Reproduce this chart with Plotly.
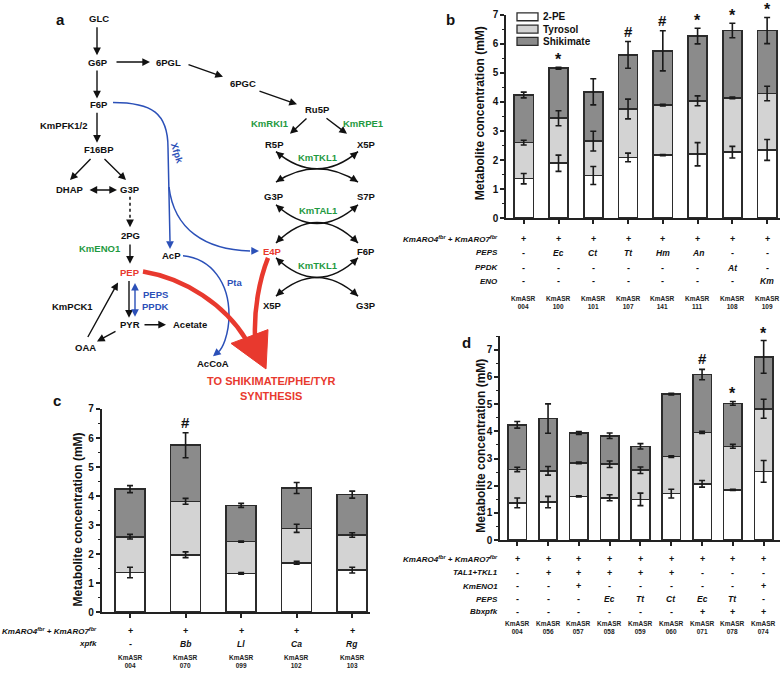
import numpy as np
import plotly.graph_objects as go

FONT = "Liberation Sans, Arial, sans-serif"

# ---------------- data ----------------
strains_b = ["KmASR<br>004", "KmASR<br>100", "KmASR<br>101", "KmASR<br>107",
             "KmASR<br>141", "KmASR<br>111", "KmASR<br>108", "KmASR<br>109"]
pe_b = [1.36, 1.89, 1.47, 2.09, 2.17, 2.20, 2.27, 2.35]
pe_err_b = [0.18, 0.28, 0.31, 0.15, 0.02, 0.40, 0.20, 0.36]
tyr_b = [1.24, 1.55, 1.18, 1.67, 1.72, 1.84, 1.87, 1.94]
tyr_err_b = [0.08, 0.26, 0.34, 0.34, 0.03, 0.17, 0.03, 0.25]
shik_b = [1.64, 1.72, 1.70, 1.86, 1.87, 2.23, 2.32, 2.17]
shik_err_b = [0.10, 0.03, 0.45, 0.46, 0.69, 0.27, 0.25, 0.45]
sig_b = ["", "*", "", "#", "#", "*", "*", "*"]
row_names_b = ["KmARO4<sup>fbr</sup> + KmARO7<sup>fbr</sup>", "PEPS", "PPDK", "ENO"]
rows_b = [
    ["+"] * 8,
    ["-", "Ec", "Ct", "Tt", "Hm", "An", "-", "-"],
    ["-", "-", "-", "-", "-", "-", "At", "-"],
    ["-", "-", "-", "-", "-", "-", "-", "Km"],
]

strains_c = ["KmASR<br>004", "KmASR<br>070", "KmASR<br>099", "KmASR<br>102", "KmASR<br>103"]
pe_c = [1.37, 1.98, 1.34, 1.70, 1.45]
pe_err_c = [0.18, 0.10, 0.03, 0.05, 0.10]
tyr_c = [1.23, 1.84, 1.09, 1.19, 1.21]
tyr_err_c = [0.08, 0.10, 0.02, 0.14, 0.08]
shik_c = [1.64, 1.93, 1.25, 1.39, 1.39]
shik_err_c = [0.12, 0.43, 0.07, 0.19, 0.12]
sig_c = ["", "#", "", "", ""]
row_names_c = ["KmARO4<sup>fbr</sup> + KmARO7<sup>fbr</sup>", "xpfk"]
rows_c = [
    ["+"] * 5,
    ["-", "Bb", "Ll", "Ca", "Rg"],
]

strains_d = ["KmASR<br>004", "KmASR<br>056", "KmASR<br>057", "KmASR<br>058", "KmASR<br>059",
             "KmASR<br>060", "KmASR<br>071", "KmASR<br>078", "KmASR<br>074"]
pe_d = [1.37, 1.40, 1.61, 1.56, 1.50, 1.71, 2.07, 1.85, 2.53]
pe_err_d = [0.18, 0.21, 0.02, 0.11, 0.23, 0.16, 0.12, 0.02, 0.40]
tyr_d = [1.23, 1.15, 1.23, 1.23, 1.07, 1.36, 1.89, 1.60, 2.30]
tyr_err_d = [0.08, 0.16, 0.03, 0.12, 0.12, 0.03, 0.04, 0.07, 0.35]
shik_d = [1.64, 1.92, 1.10, 1.05, 0.88, 2.30, 2.13, 1.58, 1.91]
shik_err_d = [0.12, 0.54, 0.05, 0.10, 0.10, 0.03, 0.19, 0.07, 0.60]
sig_d = ["", "", "", "", "", "", "#", "*", "*"]
row_names_d = ["KmARO4<sup>fbr</sup> + KmARO7<sup>fbr</sup>", "TAL1+TKL1", "KmENO1", "PEPS", "Bbxpfk"]
rows_d = [
    ["+"] * 9,
    ["-", "+", "+", "+", "+", "+", "-", "-", "-"],
    ["-", "-", "+", "-", "-", "-", "-", "-", "+"],
    ["-", "-", "-", "Ec", "Tt", "Ct", "Ec", "Tt", "-"],
    ["-", "-", "-", "-", "-", "-", "+", "+", "+"],
]

series_names = ["2-PE", "Tyrosol", "Shikimate"]
series_colors = ["#ffffff", "#d3d3d3", "#8b8b8b"]

W, H = 784, 674
fig = go.Figure()
annos = []
shapes = []


def py(p):  # pixel y -> paper
    return 1 - p / H


def add_panel(xa, ya, cats, segs, errs, bw):
    cum = np.zeros(len(cats))
    for vals, er, col, nm in zip(segs, errs, series_colors, series_names):
        fig.add_trace(go.Bar(x=cats, y=vals, name=nm, width=bw, xaxis=xa, yaxis=ya,
                             marker=dict(color=col, line=dict(color="#2b2b2b", width=1.6)),
                             showlegend=False))
    for vals, er in zip(segs, errs):
        cum = cum + np.array(vals)
        fig.add_trace(go.Scatter(x=cats, y=cum, mode="markers", xaxis=xa, yaxis=ya,
                                 marker=dict(size=1, color="rgba(0,0,0,0)"),
                                 error_y=dict(type="data", array=er, color="#1a1a1a",
                                              thickness=1.6, width=3),
                                 showlegend=False, hoverinfo="skip"))
    return cum


def add_sig(xr, yr, cats, tops, errs, sig):
    for c, t, e, s in zip(cats, tops, errs, sig):
        if s:
            annos.append(dict(x=c, y=t + e, xref=xr, yref=yr, text="<b>%s</b>" % s,
                              showarrow=False, yanchor="bottom", yshift=-3 if s == "*" else 0,
                              font=dict(size=16 if s == "*" else 15, color="#111")))


def add_table(xr, cats, names, rows, row_y, label_x, strain_y):
    for nm, vals, yy in zip(names, rows, row_y):
        annos.append(dict(x=label_x, y=yy, xref="x4", yref="y4", text="<b><i>%s</i></b>" % nm,
                          xanchor="right", showarrow=False, font=dict(size=8, color="#111")))
        for c, v in zip(cats, vals):
            txt = "<b>%s</b>" % v if v in "+-" else "<b><i>%s</i></b>" % v
            annos.append(dict(x=c, y=yy, xref=xr, yref="y4", text=txt, showarrow=False,
                              font=dict(size=9 if v in "+-" else 8.5, color="#111")))
    for c in cats:
        annos.append(dict(x=c, y=strain_y, xref=xr, yref="y4", text="<b>%s</b>" % c,
                          showarrow=False, font=dict(size=6.5, color="#222")))


# panel b
tops_b = add_panel("x", "y", strains_b, [pe_b, tyr_b, shik_b], [pe_err_b, tyr_err_b, shik_err_b], 0.55)
add_sig("x", "y", strains_b, tops_b, shik_err_b, sig_b)
add_table("x", strains_b, row_names_b, rows_b, [238, 252, 267, 281], 500, 302)
# panel c
tops_c = add_panel("x2", "y2", strains_c, [pe_c, tyr_c, shik_c], [pe_err_c, tyr_err_c, shik_err_c], 0.54)
add_sig("x2", "y2", strains_c, tops_c, shik_err_c, sig_c)
add_table("x2", strains_c, row_names_c, rows_c, [636, 649.5], 99, 667)
# panel d
tops_d = add_panel("x3", "y3", strains_d, [pe_d, tyr_d, shik_d], [pe_err_d, tyr_err_d, shik_err_d], 0.6)
add_sig("x3", "y3", strains_d, tops_d, shik_err_d, sig_d)
add_table("x3", strains_d, row_names_d, rows_d, [563, 577, 591, 604, 617], 500, 632.5)

# axis titles
for (xx, yy) in [(480, 110), (78, 523), (481, 448)]:
    annos.append(dict(x=xx, y=yy, xref="x4", yref="y4", text="<b>Metabolite concentration (mM)</b>",
                      textangle=-90, showarrow=False, font=dict(size=12, color="#111")))

# legend (panel b)
for i, (nm, col) in enumerate(zip(series_names, series_colors)):
    yc = 12 + i * 12.5
    shapes.append(dict(type="rect", xref="x4", yref="y4", x0=517, x1=538, y0=yc - 4, y1=yc + 4,
                       fillcolor=col, line=dict(color="#2b2b2b", width=1.3)))
    annos.append(dict(x=541, y=yc, xref="x4", yref="y4", text="<b>%s</b>" % nm, xanchor="left",
                      showarrow=False, font=dict(size=10, color="#111")))

# panel letters
for t, xx, yy in [("a", 60, 15), ("b", 450, 15), ("c", 57, 402), ("d", 466, 343)]:
    annos.append(dict(x=xx, y=yy, xref="x4", yref="y4", text="<b>%s</b>" % t, showarrow=False,
                      font=dict(size=15, color="#111")))

# ---------------- pathway diagram (panel a) ----------------
K, G, R, B = "#111111", "#1f9a3f", "#e8392e", "#2b50b8"
nodes = [
    ("GLC", 99, 14, K), ("G6P", 98, 58, K), ("6PGL", 168, 58, K), ("6PGC", 243, 80, K),
    ("Ru5P", 317, 106, K), ("F6P", 99, 101, K), ("KmPFK1/2", 64, 122, K), ("F16BP", 99, 147, K),
    ("DHAP", 70, 188, K), ("G3P", 130, 188, K), ("2PG", 130, 234, K), ("KmENO1", 100, 248, G),
    ("PEP", 130, 272, R), ("PYR", 130, 325, K), ("Acetate", 190, 325, K), ("KmPCK1", 72, 306, K),
    ("OAA", 85, 348, K), ("PEPS", 155, 294, B), ("PPDK", 155, 306, B), ("AcP", 171, 255, K),
    ("Pta", 235, 282, B), ("AcCoA", 213, 364, K), ("KmRKI1", 270, 120, G), ("KmRPE1", 363, 120, G),
    ("R5P", 274, 142, K), ("X5P", 366, 142, K), ("KmTKL1", 318, 155, G), ("G3P", 274, 195, K),
    ("S7P", 366, 195, K), ("KmTAL1", 318, 209, G), ("E4P", 272, 251, R), ("F6P", 366, 251, K),
    ("KmTKL1", 318, 265, G), ("X5P", 272, 305, K), ("G3P", 366, 305, K),
]
for t, xx, yy, col in nodes:
    annos.append(dict(x=xx, y=yy, xref="x4", yref="y4", text="<b>%s</b>" % t, showarrow=False,
                      font=dict(size=9.5, color=col)))
annos.append(dict(x=177, y=150, xref="x4", yref="y4", text="<b>Xfpk</b>", textangle=72,
                  showarrow=False, font=dict(size=9.5, color=B)))
for t, yy in [("TO SHIKIMATE/PHE/TYR", 382), ("SYNTHESIS", 397)]:
    annos.append(dict(x=271, y=yy, xref="x4", yref="y4", text="<b>%s</b>" % t, showarrow=False,
                      font=dict(size=11, color=R)))


def arrow(x0, y0, x1, y1, col=K, w=1.4, both=False, size=1.1):
    d = dict(x=x1, y=y1, ax=x0, ay=y0, xref="x4", yref="y4", axref="x4", ayref="y4", text="",
             showarrow=True, arrowhead=2, arrowsize=size, arrowwidth=w, arrowcolor=col, standoff=0)
    if both:
        d.update(arrowside="end+start", startarrowhead=2, startarrowsize=size, startstandoff=0)
    annos.append(d)


def head(px, pyy, cx, cy, col=K, w=1.4, size=1.1, L=9):
    v = np.array([px - cx, pyy - cy], float)
    v = v / np.linalg.norm(v)
    arrow(px - L * v[0], pyy - L * v[1], px, pyy, col, w, size=size)


def path(d, col, w, dash="solid"):
    shapes.append(dict(type="path", path=d, xref="x4", yref="y4",
                       line=dict(color=col, width=w, dash=dash)))


straight = [
    (97, 21, 97, 51), (115, 58, 150, 58), (187, 60, 223, 73), (258, 87, 297, 101),
    (97, 65, 97, 95), (97, 108, 97, 140), (92, 155, 70, 178), (103, 155, 126, 178),
    (130, 242, 130, 263), (129, 279, 129, 318), (143, 325, 166, 325), (117, 331, 97, 342),
    (87, 339, 118, 282), (308, 114, 290, 131), (325, 114, 347, 131),
]
for a in straight:
    arrow(*a)
arrow(88, 188, 117, 188, both=True)
arrow(135, 281, 135, 317, col=B, both=True)
# dashed G3P -> 2PG
path("M 130,195 L 130,218", K, 1.5, "dot")
head(130, 226, 130, 220)

# blue curves
path("M 113,99 C 152,99 168,110 168,145 L 170,240", B, 1.5)
head(170, 248, 170, 240, B)
path("M 169,185 C 174,228 205,249 250,250", B, 1.5)
head(259, 250, 250, 250, B)
path("M 183,255 C 212,258 229,283 229,315 C 229,336 222,350 218,353", B, 1.5)
head(213, 357, 220, 351, B)

# transketolase / transaldolase arcs
arcs = [
    (276, 149, 358, 149, 184), (276, 180, 358, 180, 153),
    (276, 203, 358, 203, 241), (276, 242, 358, 242, 200),
    (276, 257, 358, 257, 297), (276, 296, 358, 296, 258),
]
for x0, y0, x1, y1, yc in arcs:
    xc = (x0 + x1) / 2
    path("M %g,%g Q %g,%g %g,%g" % (x0, y0, xc, yc, x1, y1), K, 1.5)
    head(x0, y0, xc, yc, L=7)
    head(x1, y1, xc, yc, L=7)

# red flux arrows
path("M 143,271 C 185,278 225,305 246,340", R, 4.5)
path("M 268,257 C 259,280 254,310 255,337", R, 4.5)
shapes.append(dict(type="path", path="M 231,344 L 268,330 L 266,370 Z", xref="x4", yref="y4",
                   fillcolor=R, line=dict(color=R, width=1)))

# ---------------- layout ----------------
axis_common = dict(showline=True, linecolor="#222", linewidth=1.6, showgrid=False, zeroline=False,
                   ticks="outside", tickcolor="#222", tickwidth=1.5, ticklen=4, fixedrange=True)
yax = dict(axis_common, dtick=1, tickfont=dict(size=10, color="#111", weight="bold"),
           minor=dict(dtick=0.5, ticks="outside", ticklen=2, tickcolor="#222", tickwidth=1.2))
xax = dict(axis_common, type="category", showticklabels=False)

fig.update_layout(
    width=W, height=H, margin=dict(l=0, r=0, t=0, b=0),
    paper_bgcolor="white", plot_bgcolor="rgba(0,0,0,0)",
    font=dict(family=FONT, color="#111"),
    barmode="stack", showlegend=False,
    xaxis=dict(xax, domain=[506 / W, 780 / W], range=[-0.51, 7.37], anchor="y"),
    yaxis=dict(yax, domain=[py(216.7), py(10)], range=[0, 7], anchor="x"),
    xaxis2=dict(xax, domain=[101.7 / W, 370 / W], range=[-0.51, 4.32], anchor="y2"),
    yaxis2=dict(yax, domain=[py(617.3), py(410.7)], range=[0, 7], anchor="x2"),
    xaxis3=dict(xax, domain=[500 / W, 780 / W], range=[-0.56, 8.53], anchor="y3"),
    yaxis3=dict(yax, domain=[py(544), py(336.7)], range=[0, 7.5], anchor="x3"),
    xaxis4=dict(domain=[0, 1], range=[0, W], visible=False, fixedrange=True, anchor="y4"),
    yaxis4=dict(domain=[0, 1], range=[H, 0], visible=False, fixedrange=True, anchor="x4"),
    annotations=annos, shapes=shapes,
)
fig.write_html("out.html", config={"displayModeBar": False},
               post_script="document.body.style.margin='0';document.body.style.overflow='hidden';")
